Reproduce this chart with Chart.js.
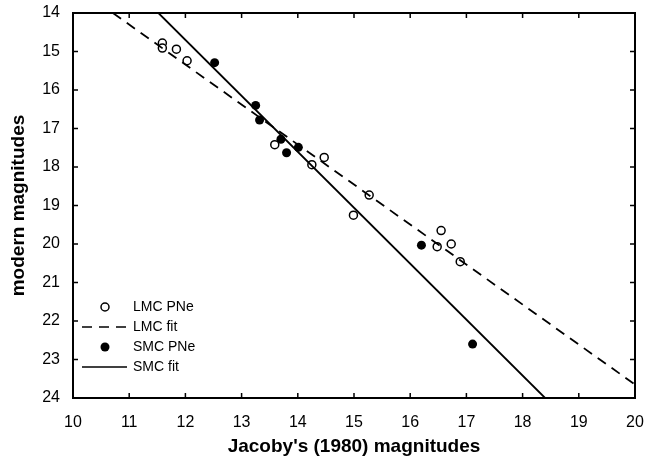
<!DOCTYPE html>
<html lang="en">
<head>
<meta charset="UTF-8">
<title>PN magnitudes</title>
<script src="https://cdn.jsdelivr.net/npm/chart.js"></script>
<style>
    body { margin: 0; background: #fff; }
    .wrap { width: 654px; height: 458px; }
</style>
</head>
<body>
<div class="wrap"><canvas id="chart" width="654" height="458"></canvas></div>
<script>
// Jacoby (1980) magnitude vs modern magnitude
const lmcX = [11.59, 11.59, 11.84, 12.03, 13.59, 14.47, 14.25, 15.27, 14.99, 16.55, 16.73, 16.48, 16.89];
const lmcY = [14.78, 14.91, 14.94, 15.24, 17.42, 17.75, 17.94, 18.73, 19.25, 19.65, 20.00, 20.07, 20.46];
const smcX = [12.52, 13.25, 13.32, 13.70, 14.01, 13.80, 16.20, 17.11];
const smcY = [15.29, 16.40, 16.78, 17.28, 17.49, 17.63, 20.03, 22.60];
// fit lines, end points where they meet the frame
const lmcFitX = [10.71, 20.0];
const lmcFitY = [14.0, 23.65];
const smcFitX = [11.52, 18.40];
const smcFitY = [14.0, 24.0];

const xTicks = [10, 11, 12, 13, 14, 15, 16, 17, 18, 19, 20];
const yTicks = [14, 15, 16, 17, 18, 19, 20, 21, 22, 23, 24];

const pts = (xs, ys) => xs.map((x, i) => ({ x: x, y: ys[i] }));
const FONT = "'Liberation Sans', Arial, sans-serif";

// frame with inward ticks on all four sides
const frame = {
    id: 'frame',
    afterDraw(chart) {
        const c = chart.ctx, a = chart.chartArea;
        const xs = chart.scales.x, ys = chart.scales.y;
        c.save();
        c.strokeStyle = '#000';
        c.lineWidth = 2;
        c.strokeRect(a.left, a.top, a.right - a.left, a.bottom - a.top);
        c.lineWidth = 1.5;
        c.beginPath();
        xTicks.forEach(v => {
            const p = xs.getPixelForValue(v);
            c.moveTo(p, a.bottom); c.lineTo(p, a.bottom - 5);
            c.moveTo(p, a.top); c.lineTo(p, a.top + 5);
        });
        yTicks.forEach(v => {
            const p = ys.getPixelForValue(v);
            c.moveTo(a.left, p); c.lineTo(a.left + 5, p);
            c.moveTo(a.right, p); c.lineTo(a.right - 5, p);
        });
        c.stroke();
        c.restore();
    }
};

// legend drawn inside the plot, lower left
const legendBox = {
    id: 'legendBox',
    afterDraw(chart) {
        const c = chart.ctx;
        const x0 = 82, x1 = 127, tx = 133;
        const rows = [307, 327, 347, 367];
        c.save();
        c.font = '14px ' + FONT;
        c.fillStyle = '#000';
        c.textBaseline = 'middle';
        c.fillText('LMC PNe', tx, rows[0]);
        c.fillText('LMC fit', tx, rows[1]);
        c.fillText('SMC PNe', tx, rows[2]);
        c.fillText('SMC fit', tx, rows[3]);
        c.strokeStyle = '#000';
        c.lineWidth = 1.5;
        c.beginPath();
        c.arc(105, rows[0], 4, 0, Math.PI * 2);
        c.fillStyle = '#fff';
        c.fill();
        c.stroke();
        c.beginPath();
        c.arc(105, rows[2], 4.5, 0, Math.PI * 2);
        c.fillStyle = '#000';
        c.fill();
        c.setLineDash([10, 7]);
        c.beginPath();
        c.moveTo(x0, rows[1]); c.lineTo(x1, rows[1]);
        c.stroke();
        c.setLineDash([]);
        c.beginPath();
        c.moveTo(x0, rows[3]); c.lineTo(x1, rows[3]);
        c.stroke();
        c.restore();
    }
};

new Chart(document.getElementById('chart'), {
    type: 'scatter',
    data: {
        datasets: [
            {
                label: 'LMC fit',
                data: pts(lmcFitX, lmcFitY),
                showLine: true,
                borderColor: '#000',
                borderWidth: 1.8,
                borderDash: [10, 7],
                pointRadius: 0
            },
            {
                label: 'SMC fit',
                data: pts(smcFitX, smcFitY),
                showLine: true,
                borderColor: '#000',
                borderWidth: 1.8,
                pointRadius: 0
            },
            {
                label: 'LMC PNe',
                data: pts(lmcX, lmcY),
                pointRadius: 4,
                pointBorderWidth: 1.5,
                pointBorderColor: '#000',
                pointBackgroundColor: '#fff'
            },
            {
                label: 'SMC PNe',
                data: pts(smcX, smcY),
                pointRadius: 4.5,
                pointBorderWidth: 0,
                pointBackgroundColor: '#000'
            }
        ]
    },
    options: {
        responsive: false,
        animation: false,
        layout: { padding: { top: 13, right: 19, bottom: 0, left: 0 } },
        plugins: {
            legend: { display: false },
            tooltip: { enabled: false }
        },
        scales: {
            x: {
                type: 'linear',
                min: 10, max: 20,
                afterBuildTicks: s => { s.ticks = xTicks.map(v => ({ value: v })); },
                afterFit: s => { s.height = 60; s.paddingLeft = 0; s.paddingRight = 0; },
                grid: { display: false, drawTicks: false },
                border: { display: false },
                ticks: { color: '#000', font: { family: FONT, size: 16 }, padding: 15, maxRotation: 0 },
                title: {
                    display: true,
                    text: "Jacoby's (1980) magnitudes",
                    color: '#000',
                    font: { family: FONT, size: 19, weight: 'bold' },
                    padding: { top: 0, bottom: 0 }
                }
            },
            y: {
                type: 'linear',
                reverse: true,
                min: 14, max: 24,
                afterBuildTicks: s => { s.ticks = yTicks.map(v => ({ value: v })); },
                afterFit: s => { s.width = 73; s.paddingTop = 0; s.paddingBottom = 0; },
                grid: { display: false, drawTicks: false },
                border: { display: false },
                ticks: { color: '#000', font: { family: FONT, size: 16 }, padding: 13 },
                title: {
                    display: true,
                    text: 'modern magnitudes',
                    color: '#000',
                    font: { family: FONT, size: 19, weight: 'bold' },
                    padding: { top: 7, bottom: 0 }
                }
            }
        }
    },
    plugins: [frame, legendBox]
});
</script>
</body>
</html>
